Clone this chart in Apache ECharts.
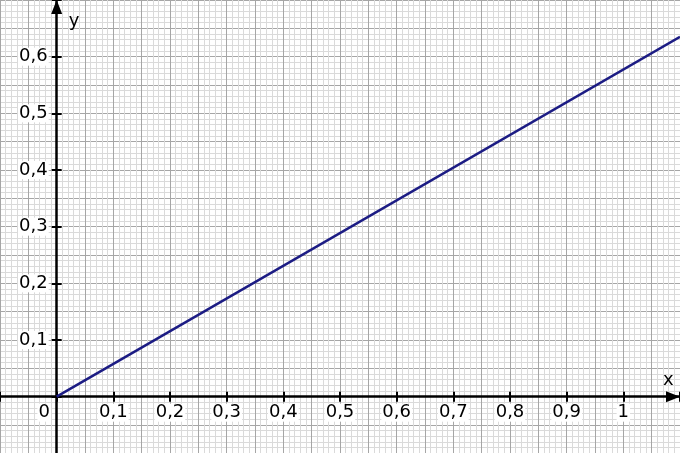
<!DOCTYPE html>
<html>
<head>
<meta charset="utf-8">
<script src="https://cdn.jsdelivr.net/npm/echarts@6/dist/echarts.min.js"></script>
<style>html,body{margin:0;padding:0;background:#fff}#c{width:680px;height:453px}</style>
</head>
<body>
<div id="c"></div>
<script>
// data
const lineX = [0, 1.1];
const lineY = [0, 0.635];
const xTickValues = [0, 0.1, 0.2, 0.3, 0.4, 0.5, 0.6, 0.7, 0.8, 0.9, 1];
const xTickLabels = ['0', '0,1', '0,2', '0,3', '0,4', '0,5', '0,6', '0,7', '0,8', '0,9', '1'];
const yTickValues = [0.1, 0.2, 0.3, 0.4, 0.5, 0.6];
const yTickLabels = ['0,1', '0,2', '0,3', '0,4', '0,5', '0,6'];
const xRange = [-0.1, 1.1];
const yRange = [-0.1, 0.7];

const FONT = 'DejaVu Sans';
const FS = 18;
const GW = 680, GH = 453.33;
// pixel distance of the zero lines from the grid's left / bottom edge, derived from the ranges
const X0 = GW * (0 - xRange[0]) / (xRange[1] - xRange[0]);
const Y0 = GH * (0 - yRange[0]) / (yRange[1] - yRange[0]);

function findLabel(vals, labels, v) {
  for (let i = 0; i < vals.length; i++) {
    if (Math.abs(vals[i] - v) < 1e-6) return labels[i];
  }
  return '';
}

const richStyles = {
  n: { backgroundColor: '#fff', fontFamily: FONT, fontSize: FS, color: '#000', padding: [0, 1] },
  g: { width: 25 }
};

const gridAxisCommon = {
  type: 'value',
  axisLine: { show: false },
  axisTick: { show: false },
  axisLabel: { show: false },
  splitLine: { show: true, lineStyle: { color: '#a6a6a6', width: 1 } },
  minorTick: { show: false, splitNumber: 5 },
  minorSplitLine: { show: true, lineStyle: { color: '#dadada', width: 1 } }
};

const chart = echarts.init(document.getElementById('c'), null, { renderer: 'canvas' });
chart.setOption({
  backgroundColor: '#ffffff',
  animation: false,
  grid: { left: 0, top: 0, width: GW, height: GH, containLabel: false, outerBoundsMode: 'none' },
  xAxis: [
    Object.assign({}, gridAxisCommon, { min: xRange[0], max: xRange[1], interval: 0.05, position: 'bottom' }),
    {
      type: 'value', min: xRange[0], max: xRange[1], interval: 0.1, position: 'bottom', offset: -Y0,
      splitLine: { show: false },
      axisLine: { show: true, onZero: false,
        lineStyle: { color: '#000', width: 2.5 },
        symbol: ['none', 'triangle'], symbolSize: [11, 14], symbolOffset: [0, -7] },
      axisTick: { show: true, length: 5, lineStyle: { color: '#000', width: 2 } },
      axisLabel: {
        show: true, margin: 7, color: '#000', fontFamily: FONT, fontSize: FS,
        formatter: function (v) {
          const s = findLabel(xTickValues, xTickLabels, v);
          if (s === '') return '';
          if (s === '0') return '{n|0}{g|}';
          return '{n|' + s + '}';
        },
        rich: richStyles
      },
      name: 'x', nameLocation: 'end', nameGap: -17,
      nameTextStyle: { color: '#000', fontFamily: FONT, fontSize: FS, align: 'left', verticalAlign: 'bottom', padding: [0, 0, 7, 0] }
    },
    {
      type: 'value', min: xRange[0], max: xRange[1], interval: 0.1, position: 'bottom', offset: -Y0,
      splitLine: { show: false },
      axisLine: { show: false, onZero: false },
      axisTick: { show: true, inside: true, length: 5, lineStyle: { color: '#000', width: 2 } },
      axisLabel: { show: false }
    }
  ],
  yAxis: [
    Object.assign({}, gridAxisCommon, { min: yRange[0], max: yRange[1], interval: 0.05, position: 'left' }),
    {
      type: 'value', min: yRange[0], max: yRange[1], interval: 0.1, position: 'left', offset: -X0,
      splitLine: { show: false },
      axisLine: { show: true, onZero: false,
        lineStyle: { color: '#000', width: 2.5 },
        symbol: ['none', 'triangle'], symbolSize: [11, 14], symbolOffset: [0, -7] },
      axisTick: { show: true, length: 5, lineStyle: { color: '#000', width: 2 } },
      axisLabel: {
        show: true, margin: 8, color: '#000', fontFamily: FONT, fontSize: FS,
        formatter: function (v) {
          const s = findLabel(yTickValues, yTickLabels, v);
          return s === '' ? '' : '{n|' + s + '}';
        },
        rich: richStyles
      },
      name: 'y', nameLocation: 'end', nameGap: -12,
      nameTextStyle: { color: '#000', fontFamily: FONT, fontSize: FS, align: 'left', verticalAlign: 'top', padding: [0, 0, 0, 12] }
    },
    {
      type: 'value', min: yRange[0], max: yRange[1], interval: 0.1, position: 'left', offset: -X0,
      splitLine: { show: false },
      axisLine: { show: false, onZero: false },
      axisTick: { show: true, inside: true, length: 5, lineStyle: { color: '#000', width: 2 } },
      axisLabel: { show: false }
    }
  ],
  series: [{
    type: 'line',
    xAxisIndex: 0, yAxisIndex: 0,
    data: lineX.map((x, i) => [x, lineY[i]]),
    showSymbol: false,
    lineStyle: { color: '#1c1c84', width: 2.5 },
    z: 1
  }]
});
</script>
</body>
</html>
